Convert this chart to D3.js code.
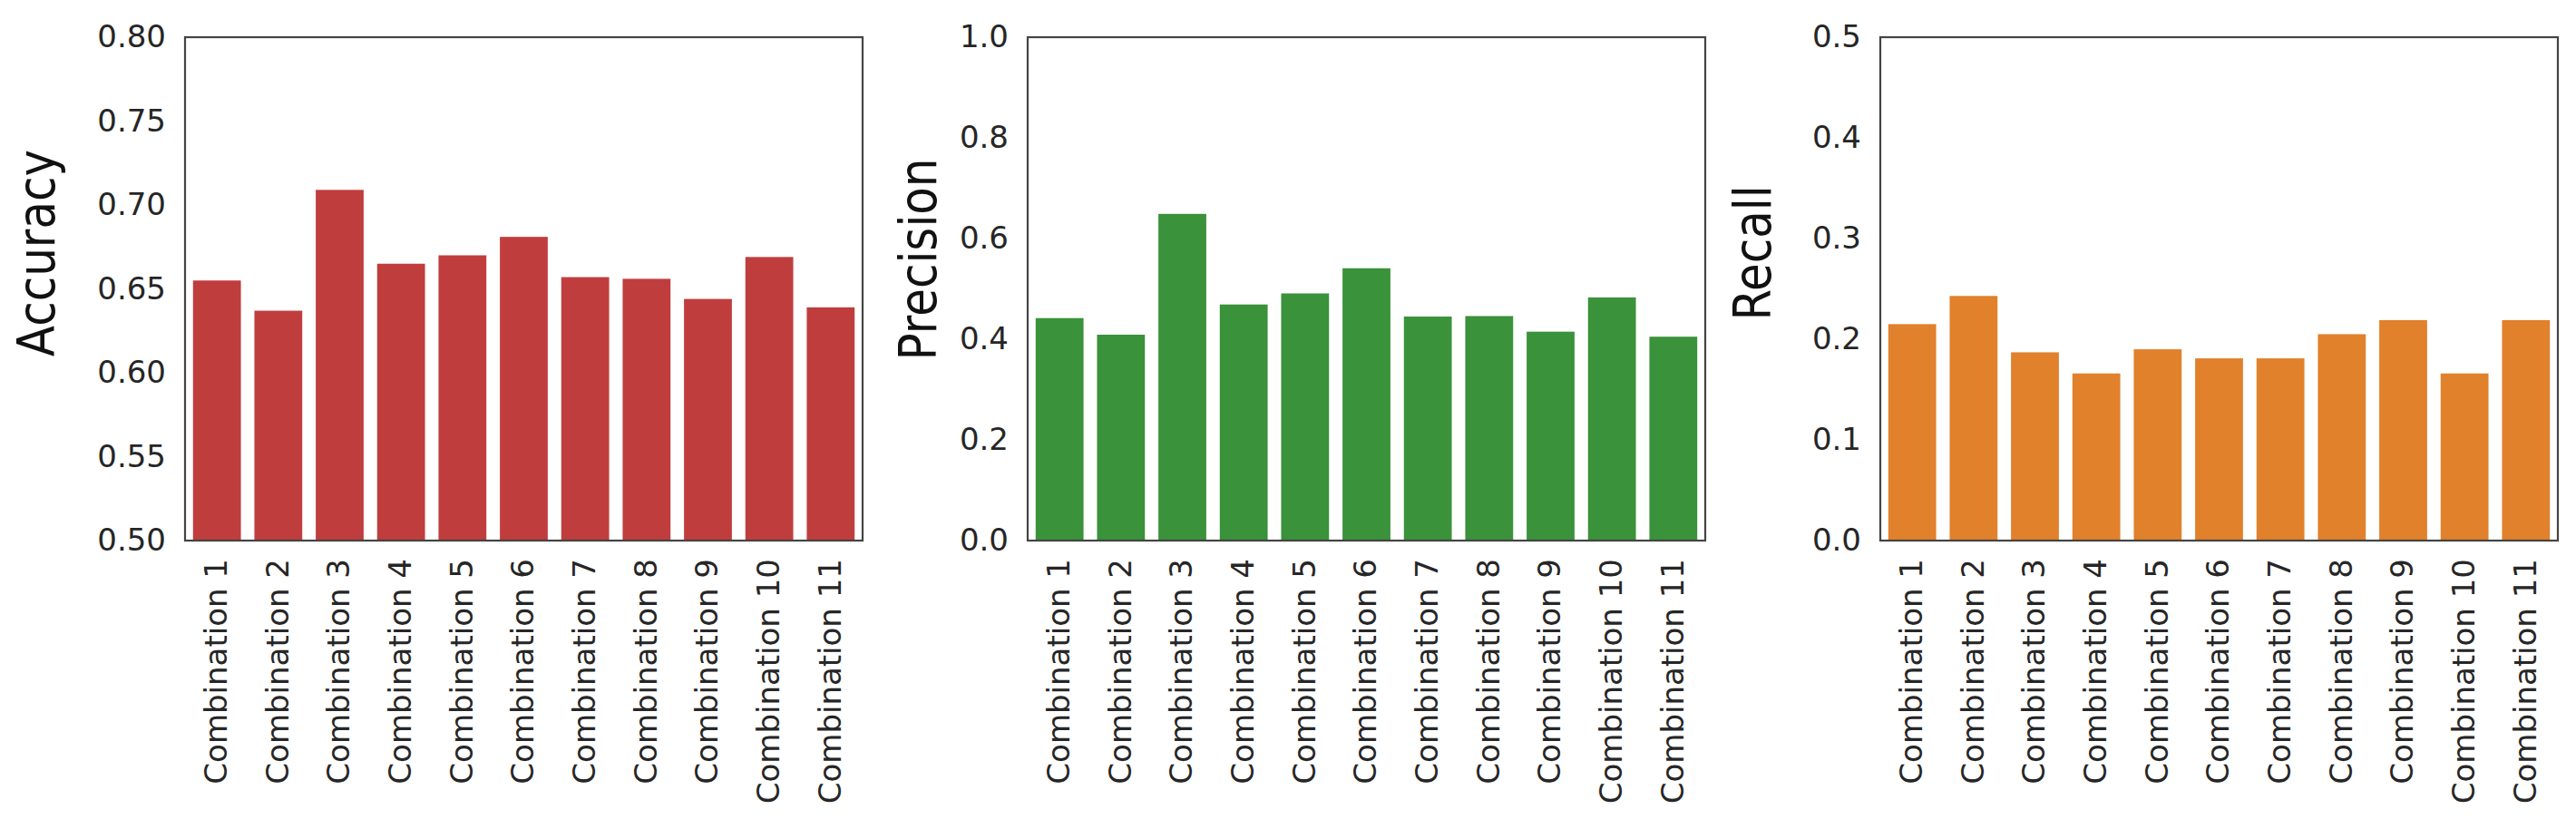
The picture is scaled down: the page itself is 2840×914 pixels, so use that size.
<!DOCTYPE html>
<html>
<head>
<meta charset="utf-8">
<script src="https://cdn.jsdelivr.net/npm/d3@7"></script>
<style>
  html, body { margin: 0; padding: 0; background: #ffffff; }
  svg { display: block; }
  text { font-family: "DejaVu Sans", sans-serif; }
</style>
</head>
<body>
<svg id="chart" width="2840" height="914"></svg>
<script>
// ---- data ----
const categories = ["Combination 1","Combination 2","Combination 3","Combination 4","Combination 5","Combination 6","Combination 7","Combination 8","Combination 9","Combination 10","Combination 11"];
const accuracy  = [0.655, 0.637, 0.709, 0.665, 0.670, 0.681, 0.657, 0.656, 0.644, 0.669, 0.639];
const precision = [0.442, 0.409, 0.649, 0.469, 0.491, 0.541, 0.445, 0.446, 0.415, 0.483, 0.405];
const recall    = [0.215, 0.243, 0.187, 0.166, 0.190, 0.181, 0.181, 0.205, 0.219, 0.166, 0.219];
const accuracyTicks  = [0.50, 0.55, 0.60, 0.65, 0.70, 0.75, 0.80];
const precisionTicks = [0.0, 0.2, 0.4, 0.6, 0.8, 1.0];
const recallTicks    = [0.0, 0.1, 0.2, 0.3, 0.4, 0.5];

const panels = [
  { label: "Accuracy",  values: accuracy,  domain: [0.5, 0.8], ticks: accuracyTicks,  fmt: ".2f", color: "#c03d3e" },
  { label: "Precision", values: precision, domain: [0.0, 1.0], ticks: precisionTicks, fmt: ".1f", color: "#3a923a" },
  { label: "Recall",    values: recall,    domain: [0.0, 0.5], ticks: recallTicks,    fmt: ".1f", color: "#e1812c" }
];

// ---- layout ----
const layout = [
  { left: 204,  labelOffset: 144, labelY: 279 },
  { left: 1133, labelOffset: 101, labelY: 286 },
  { left: 2073, labelOffset: 121, labelY: 279 }
];
const plotW = 747, plotTop = 41, plotBottom = 596;

const svg = d3.select("#chart");

panels.forEach((p, i) => {
  const L = layout[i];
  const g = svg.append("g");

  const x = d3.scaleBand()
    .domain(categories)
    .range([L.left, L.left + plotW])
    .paddingInner(0.22)
    .paddingOuter(0.13);

  const y = d3.scaleLinear()
    .domain(p.domain)
    .range([plotBottom, plotTop]);

  // bars
  g.append("g").selectAll("rect")
    .data(p.values)
    .join("rect")
    .attr("x", (d, j) => x(categories[j]))
    .attr("width", x.bandwidth())
    .attr("y", d => y(d))
    .attr("height", d => y(p.domain[0]) - y(d))
    .attr("fill", p.color);

  // y axis
  const yAxis = d3.axisLeft(y)
    .tickValues(p.ticks)
    .tickFormat(d3.format(p.fmt))
    .tickSize(0)
    .tickPadding(21);
  const ya = g.append("g")
    .attr("transform", `translate(${L.left},0)`)
    .call(yAxis);
  ya.select(".domain").remove();
  ya.selectAll("text")
    .attr("font-size", 34)
    .attr("fill", "#262626")
    .attr("font-family", "DejaVu Sans");

  // x axis
  const xAxis = d3.axisBottom(x).tickSize(0).tickPadding(0);
  const xa = g.append("g")
    .attr("transform", `translate(0,${plotBottom})`)
    .call(xAxis);
  xa.select(".domain").remove();
  xa.selectAll("text")
    .attr("font-size", 34)
    .attr("fill", "#262626")
    .attr("font-family", "DejaVu Sans")
    .attr("text-anchor", "end")
    .attr("transform", "rotate(-90)")
    .attr("x", -20)
    .attr("y", 0)
    .attr("dy", "0.32em");

  // frame
  g.append("rect")
    .attr("x", L.left)
    .attr("y", plotTop)
    .attr("width", plotW)
    .attr("height", plotBottom - plotTop)
    .attr("fill", "none")
    .attr("stroke", "#444444")
    .attr("stroke-width", 2.2);

  // y label
  g.append("text")
    .attr("transform", `translate(${L.left - L.labelOffset},${L.labelY}) scale(1.14,1) rotate(-90)`)
    .attr("text-anchor", "middle")
    .attr("font-size", 50)
    .attr("fill", "#111111")
    .text(p.label);
});
</script>
</body>
</html>
